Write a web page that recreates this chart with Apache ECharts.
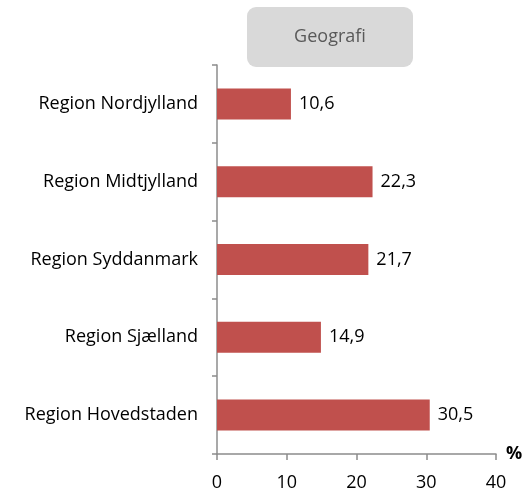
<!DOCTYPE html>
<html>
<head>
<meta charset="utf-8">
<script src="https://cdn.jsdelivr.net/npm/echarts@6/dist/echarts.min.js"></script>
<style>
  html, body { margin: 0; padding: 0; background: #fff; }
  #chart { width: 526px; height: 493px; }
</style>
</head>
<body>
<div id="chart"></div>
<script>
// data
const categories = ['Region Nordjylland', 'Region Midtjylland', 'Region Syddanmark', 'Region Sjælland', 'Region Hovedstaden'];
const values = [10.6, 22.3, 21.7, 14.9, 30.5];
const xTicks = [0, 10, 20, 30, 40];

const font = '"Open Sans", sans-serif';

let chart = echarts.init(document.getElementById('chart'));

let option = {
    animation: false,
    grid: { left: 217, right: 30, top: 65, bottom: 39 },
    graphic: [
        {
            type: 'rect',
            shape: { x: 247, y: 7, width: 166, height: 60, r: 9 },
            style: { fill: '#d9d9d9' }
        },
        {
            type: 'text',
            x: 330, y: 37,
            style: {
                text: 'Geografi', fill: '#595959', font: '18px ' + font,
                align: 'center', verticalAlign: 'middle'
            }
        }
    ],
    xAxis: {
        type: 'value',
        min: xTicks[0],
        max: xTicks[xTicks.length - 1],
        interval: 10,
        name: '%',
        nameLocation: 'end',
        nameGap: 10,
        nameTextStyle: { color: '#000', fontWeight: 'bold', fontSize: 18, fontFamily: font },
        axisLine: { show: true, lineStyle: { color: '#8c8c8c', width: 1.5 } },
        axisTick: { show: true, length: 6, lineStyle: { color: '#8c8c8c', width: 1.5 } },
        axisLabel: { color: '#000', fontSize: 18, fontFamily: font, margin: 20 },
        splitLine: { show: false }
    },
    yAxis: {
        type: 'category',
        data: categories,
        inverse: true,
        axisLine: { show: true, lineStyle: { color: '#8c8c8c', width: 1.5 } },
        axisTick: { show: true, length: 5, lineStyle: { color: '#8c8c8c', width: 1.5 } },
        axisLabel: { color: '#000', fontSize: 18, fontFamily: font, margin: 19 }
    },
    series: [{
        type: 'bar',
        data: values,
        barWidth: 31,
        itemStyle: { color: '#c0504d' },
        label: {
            show: true,
            position: 'right',
            distance: 8,
            color: '#000',
            fontSize: 18,
            fontFamily: font,
            formatter: p => String(p.value).replace('.', ',')
        }
    }]
};

chart.setOption(option);
</script>
</body>
</html>
